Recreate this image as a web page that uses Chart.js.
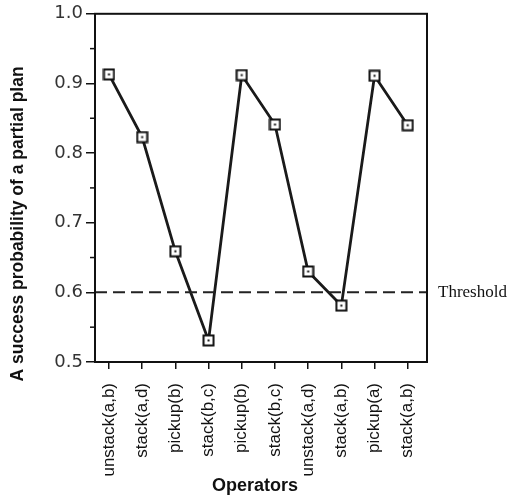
<!DOCTYPE html>
<html>
<head>
<meta charset="utf-8">
<script src="https://cdn.jsdelivr.net/npm/chart.js@4"></script>
<style>
  html, body { margin: 0; padding: 0; background: #fff; }
  #wrap { width: 510px; height: 496px; }
</style>
</head>
<body>
<div id="wrap"><canvas id="c" width="510" height="496"></canvas></div>
<script>
const categories = ['unstack(a,b)', 'stack(a,d)', 'pickup(b)', 'stack(b,c)', 'pickup(b)', 'stack(b,c)', 'unstack(a,d)', 'stack(a,b)', 'pickup(a)', 'stack(a,b)'];
const probabilities = [0.913, 0.823, 0.659, 0.531, 0.912, 0.841, 0.630, 0.581, 0.911, 0.840];
const threshold = 0.6;
const thresholdLabel = 'Threshold';
const yTicks = [0.5, 0.6, 0.7, 0.8, 0.9, 1.0];
const yMinorTicks = [0.55, 0.65, 0.75, 0.85, 0.95];
const yTitle = 'A success probability of a partial plan';
const xTitle = 'Operators';

// marker: open square with a dot in the middle
function makeMarker() {
  const c = document.createElement('canvas');
  c.width = 13; c.height = 13;
  const g = c.getContext('2d');
  g.fillStyle = '#fff';
  g.fillRect(1, 1, 11, 11);
  g.strokeStyle = '#111';
  g.lineWidth = 2;
  g.strokeRect(1.5, 1.5, 10, 10);
  g.fillStyle = '#111';
  g.fillRect(5.5, 5.5, 2, 2);
  return c;
}

const extras = {
  id: 'extras',
  afterDatasetsDraw(chart) {
    const { ctx, chartArea: a, scales: { x, y } } = chart;
    ctx.save();
    // threshold dashed line
    const ty = y.getPixelForValue(threshold);
    ctx.strokeStyle = '#222';
    ctx.lineWidth = 2;
    ctx.setLineDash([12, 6]);
    ctx.beginPath();
    ctx.moveTo(a.left, ty);
    ctx.lineTo(a.right, ty);
    ctx.stroke();
    ctx.setLineDash([]);
    // threshold label
    ctx.fillStyle = '#111';
    ctx.font = '17px "Liberation Serif", serif';
    ctx.textAlign = 'left';
    ctx.textBaseline = 'middle';
    ctx.fillText(thresholdLabel, a.right + 11, ty);
    // frame
    ctx.strokeStyle = '#111';
    ctx.lineWidth = 2;
    ctx.strokeRect(a.left, a.top, a.right - a.left, a.bottom - a.top);
    // minor y ticks
    ctx.lineWidth = 1.5;
    yMinorTicks.forEach(v => {
      const py = y.getPixelForValue(v);
      ctx.beginPath();
      ctx.moveTo(a.left - 5, py);
      ctx.lineTo(a.left, py);
      ctx.stroke();
    });
    // axis titles
    ctx.fillStyle = '#111';
    ctx.font = 'bold 17.5px "Liberation Sans", Arial, sans-serif';
    ctx.textAlign = 'center';
    ctx.textBaseline = 'middle';
    ctx.save();
    ctx.translate(18, (a.top + a.bottom) / 2 + 36);
    ctx.rotate(-Math.PI / 2);
    ctx.fillText(yTitle, 0, 0);
    ctx.restore();
    ctx.font = 'bold 18px "Liberation Sans", Arial, sans-serif';
    ctx.fillText(xTitle, (a.left + a.right) / 2 - 6, 486);
    ctx.restore();
  }
};

new Chart(document.getElementById('c'), {
  type: 'line',
  data: {
    datasets: [{
      data: probabilities.map((v, i) => ({ x: i, y: v })),
      borderColor: '#1a1a1a',
      borderWidth: 2.8,
      pointStyle: makeMarker(),
      pointRadius: 6,
      tension: 0
    }]
  },
  options: {
    responsive: false,
    animation: false,
    devicePixelRatio: 1,
    layout: { padding: { top: 12, right: 83, left: 0, bottom: 0 } },
    plugins: { legend: { display: false }, tooltip: { enabled: false } },
    scales: {
      x: {
        type: 'linear',
        min: -0.42,
        max: 9.58,
        afterBuildTicks(scale) { scale.ticks = categories.map((c, i) => ({ value: i })); },
        afterFit(scale) { scale.height = 134; },
        grid: { display: true, drawOnChartArea: false, drawTicks: true, tickLength: 7, color: '#111', lineWidth: 1.5 },
        border: { display: true, color: '#111', width: 2 },
        ticks: {
          autoSkip: false,
          minRotation: 90,
          maxRotation: 90,
          padding: 14,
          color: '#111',
          font: { family: '"Liberation Sans", Arial, sans-serif', size: 17 },
          callback: (v) => categories[v]
        },
        title: { display: false, text: xTitle }
      },
      y: {
        min: 0.5,
        max: 1.0,
        afterBuildTicks(scale) { scale.ticks = yTicks.map(v => ({ value: v })); },
        afterFit(scale) { scale.width = 95; },
        grid: { display: true, drawOnChartArea: false, drawTicks: true, tickLength: 9, color: '#111', lineWidth: 1.5 },
        border: { display: true, color: '#111', width: 2 },
        ticks: {
          padding: 3,
          color: '#333',
          font: { family: '"DejaVu Sans", sans-serif', size: 18, weight: 'normal' },
          callback: (v) => Number(v).toFixed(1)
        },
        title: { display: false, text: yTitle }
      }
    }
  },
  plugins: [extras]
});
</script>
</body>
</html>
